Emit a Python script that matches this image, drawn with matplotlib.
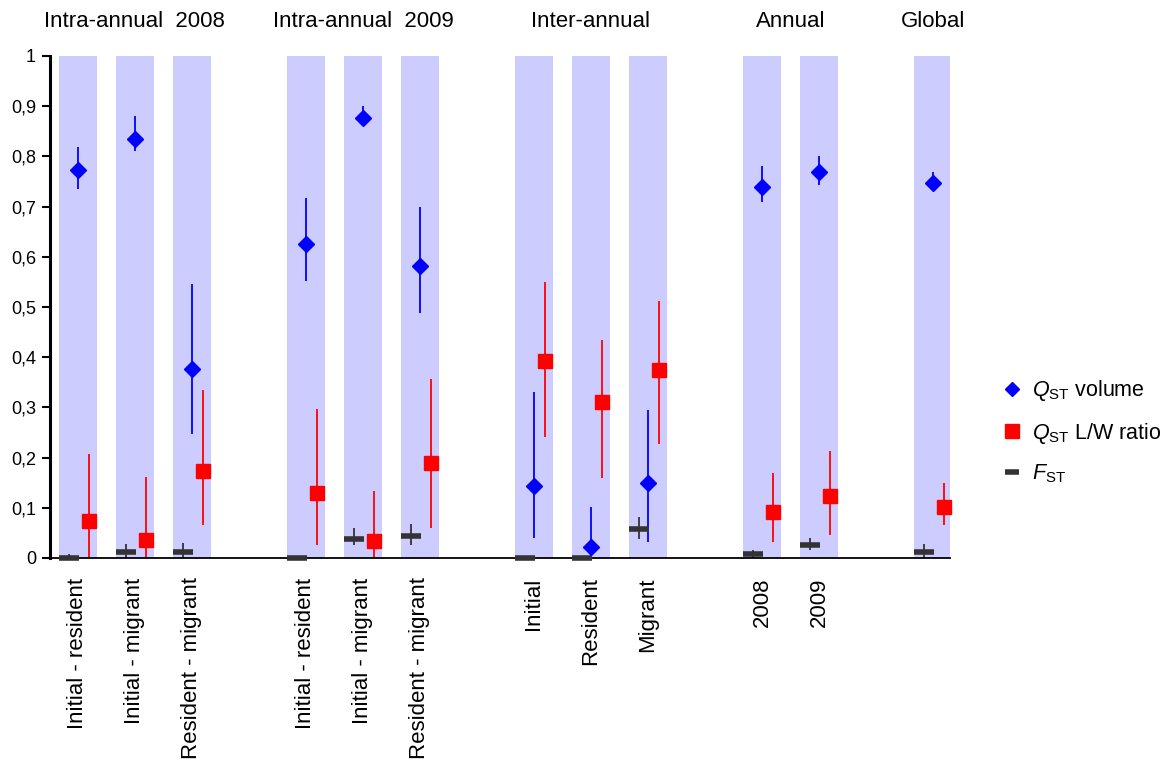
import numpy as np
import matplotlib.pyplot as plt
from matplotlib.lines import Line2D

plt.rcParams['font.family'] = ['Liberation Sans', 'DejaVu Sans']
plt.rcParams['mathtext.fontset'] = 'custom'
plt.rcParams['mathtext.rm'] = 'Liberation Sans'
plt.rcParams['mathtext.it'] = 'Liberation Sans:italic'
plt.rcParams['mathtext.bf'] = 'Liberation Sans:bold'

# comparisons (slot positions leave a gap between groups)
slots = [0, 1, 2, 4, 5, 6, 8, 9, 10, 12, 13, 15]
labels = ['Initial - resident', 'Initial - migrant', 'Resident - migrant',
          'Initial - resident', 'Initial - migrant', 'Resident - migrant',
          'Initial', 'Resident', 'Migrant',
          '2008', '2009', '']
groups = ['Intra-annual  2008', 'Intra-annual  2009', 'Inter-annual', 'Annual', 'Global']
group_pos = [1, 5, 9, 12.5, 15]

# QST volume
qv = [0.772, 0.835, 0.376, 0.626, 0.877, 0.581, 0.143, 0.021, 0.150, 0.740, 0.768, 0.746]
qv_lo = [0.736, 0.811, 0.247, 0.551, 0.870, 0.488, 0.039, 0.0, 0.032, 0.710, 0.744, 0.738]
qv_hi = [0.818, 0.880, 0.545, 0.718, 0.900, 0.699, 0.330, 0.102, 0.295, 0.781, 0.800, 0.768]

# QST L/W ratio
ql = [0.074, 0.036, 0.174, 0.129, 0.033, 0.189, 0.392, 0.311, 0.375, 0.092, 0.124, 0.102]
ql_lo = [0.0, 0.0, 0.066, 0.025, 0.0, 0.060, 0.242, 0.160, 0.228, 0.032, 0.046, 0.066]
ql_hi = [0.207, 0.162, 0.335, 0.297, 0.134, 0.357, 0.549, 0.435, 0.512, 0.169, 0.213, 0.149]

# FST
fst = [0.0, 0.011, 0.011, 0.0, 0.038, 0.044, 0.0, 0.0, 0.057, 0.007, 0.025, 0.011]
fst_lo = [0.0, 0.0, 0.0, 0.0, 0.025, 0.025, 0.0, 0.0, 0.038, 0.0, 0.015, 0.0]
fst_hi = [0.008, 0.027, 0.030, 0.0, 0.059, 0.068, 0.0, 0.003, 0.081, 0.016, 0.040, 0.027]

BLUE = '#0000FF'
RED = '#FF0000'
DARK = '#333333'
BAND = '#CCCCFF'

x = np.array(slots, dtype=float)

fig = plt.figure(figsize=(11.65, 7.67), dpi=100)
ax = fig.add_axes([0.0429, 0.2725, 0.7726, 0.6545])

for s in slots:
    ax.axvspan(s - 0.34, s + 0.34, ymin=0, ymax=1, color=BAND, lw=0, zorder=0)

def err(v, lo, hi):
    v = np.array(v)
    return np.vstack([v - np.array(lo), np.array(hi) - v])

xf = x - 0.16
xr = x + 0.19

ax.errorbar(xf, fst, yerr=err(fst, fst_lo, fst_hi), fmt='none', ecolor=DARK, elinewidth=1.3, capsize=0, zorder=2)
ax.errorbar(x, qv, yerr=err(qv, qv_lo, qv_hi), fmt='none', ecolor=BLUE, elinewidth=1.3, capsize=0, zorder=2)
ax.errorbar(xr, ql, yerr=err(ql, ql_lo, ql_hi), fmt='none', ecolor=RED, elinewidth=1.3, capsize=0, zorder=2)

ax.plot(xf, fst, ls='none', marker='_', ms=14, mew=4, color=DARK, zorder=3, clip_on=False)
ax.plot(x, qv, ls='none', marker='D', ms=8.5, color=BLUE, mec=BLUE, zorder=4, clip_on=False)
ax.plot(xr, ql, ls='none', marker='s', ms=10, color=RED, mec=RED, zorder=4, clip_on=False)

ax.set_xlim(-0.49, 15.3)
ax.set_ylim(0, 1)
yt = np.round(np.arange(0, 1.01, 0.1), 1)
ax.set_yticks(yt)
ax.set_yticklabels(['0' if v == 0 else ('1' if v == 1 else f'{v:.1f}'.replace('.', ',')) for v in yt], fontsize=13)
ax.tick_params(axis='y', direction='out', length=6, width=1.5, pad=4)

ax.set_xticks(slots)
ax.set_xticklabels(labels, rotation=90, fontsize=16, va='top')
ax.tick_params(axis='x', length=0, pad=14)

for side in ['top', 'right']:
    ax.spines[side].set_visible(False)
ax.spines['left'].set_linewidth(2.2)
ax.spines['bottom'].set_linewidth(1.3)

for g, p in zip(groups, group_pos):
    ax.text(p, 1.068, g, transform=ax.get_xaxis_transform(), ha='center', va='center', fontsize=16)

handles = [
    Line2D([], [], ls='none', marker='D', ms=7, color=BLUE),
    Line2D([], [], ls='none', marker='s', ms=10, color=RED),
    Line2D([], [], ls='none', marker='_', ms=10, mew=4, color=DARK),
]
names = [r'$Q_{\mathrm{ST}}$ volume', r'$Q_{\mathrm{ST}}$ L/W ratio', r'$F_{\mathrm{ST}}$']
fig.legend(handles, names, loc='center left', bbox_to_anchor=(0.843, 0.437), frameon=False,
           fontsize=15.5, handlelength=1.0, handletextpad=0.4, labelspacing=0.8)

fig.savefig('out.png', dpi=100)
